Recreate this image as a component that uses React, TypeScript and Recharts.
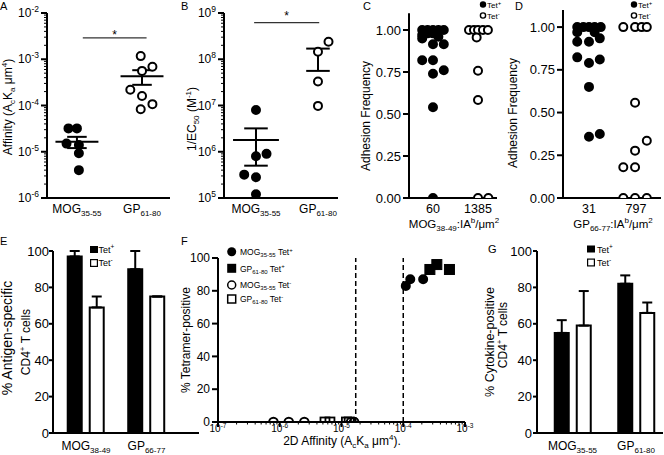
import React from 'react';
import {
  Bar,
  BarChart,
  ErrorBar,
  ReferenceLine,
  Scatter,
  ScatterChart,
  XAxis,
  YAxis,
} from 'recharts';

type Part = [string, ('sub' | 'sup' | '')?];

const FONT = '"Liberation Sans", Arial, Helvetica, sans-serif';
const W = 664;
const H = 455;
const YW = 40; // y axis band width
const XH = 20; // x axis band height

// A: 2D affinity per clone (log scale)
const aCategories: Part[][] = [[['MOG'], ['35-55', 'sub']], [['GP'], ['61-80', 'sub']]];
const aMog = [3.2e-5, 3.2e-5, 1.5e-5, 1.4e-5, 9.3e-6, 4.0e-6];
const aMogJitter = [-0.13, 0.0, -0.16, 0.03, 0.03, 0.03];
const aGp = [1.17e-3, 6.9e-4, 5.6e-4, 2.2e-4, 1.6e-4, 1.07e-4, 8.3e-5];
const aGpJitter = [-0.02, 0.16, 0, -0.18, 0, 0.16, -0.02];
const aMean = [1.65e-5, 4.3e-4];
const aSemLow = [1.2e-5, 2.8e-4];
const aSemHigh = [2.1e-5, 5.8e-4];
const aSigY = 2.9e-3;

// B: 1/EC50 (log scale)
const bMog = [8e6, 9e5, 8e5, 3.2e5, 2.8e5, 1.2e5];
const bMogJitter = [0, 0.17, 0, -0.19, 0, 0];
const bGp = [2.4e8, 1.45e8, 3.3e7, 9.8e6];
const bGpJitter = [0.17, 0, 0, 0];
const bMean = [1.8e6, 1.1e8];
const bSemLow = [5e5, 5.6e7];
const bSemHigh = [3.2e6, 1.7e8];
const bSigY = 6.2e8;

// C: adhesion frequency, MOG38-49
const cLabels: Part[][] = [[['60']], [['1385']]];
const cTetPos = [1, 1, 1, 1, 1, 0.97, 0.98, 0.98, 0.96, 0.95, 0.915, 0.915, 0.82, 0.82, 0.74, 0.76, 0.54, 0];
const cTetPosJitter = [-0.24, -0.12, 0, 0.12, 0.24, -0.24, -0.12, 0, 0.12, -0.24, 0, 0.24, -0.24, 0, 0, 0.24, 0, 0];
const cTetNeg = [1, 1, 1, 1, 1, 0.956, 0.757, 0.583, 0, 0];
const cTetNegJitter = [-0.2, -0.09, 0, 0.11, 0.22, -0.03, 0, 0, 0, 0.23];

// D: adhesion frequency, GP66-77
const dLabels: Part[][] = [[['31']], [['797']]];
const dTetPos = [1, 1, 1, 1, 1, 0.97, 0.97, 0.914, 0.914, 0.934, 0.823, 0.79, 0.81, 0.65, 0.358, 0.374];
const dTetPosJitter = [-0.25, -0.12, 0, 0.12, 0.25, -0.25, 0.12, -0.25, 0, 0.23, -0.25, 0, 0.23, 0, 0, 0.23];
const dTetNeg = [1, 1, 1, 1, 0.557, 0.335, 0.277, 0.18, 0.18, 0, 0, 0];
const dTetNegJitter = [-0.27, -0.02, 0.12, 0.23, -0.02, 0.23, -0.02, -0.27, -0.02, -0.27, -0.02, 0.23];

// E: % antigen-specific CD4+ T cells
const eCategories: Part[][] = [[['MOG'], ['38-49', 'sub']], [['GP'], ['66-77', 'sub']]];
const eTetPos = [97, 90];
const eTetPosErr = [3, 10];
const eTetNeg = [69, 75];
const eTetNegErr = [6, 0];

// F: % tetramer-positive vs 2D affinity
const fMogPosX = [1.1e-4, 1.3e-4, 2.1e-4];
const fMogPosY = [83, 87, 87];
const fGpPosX = [2.7e-4, 3.5e-4, 5.6e-4];
const fGpPosY = [93, 96, 93];
const fMogNegX = [7.9e-7, 1.4e-6, 2.5e-6, 1.43e-5, 1.6e-5];
const fMogNegY = [0, 0, 0, 0, 0];
const fGpNegX = [5.4e-6, 6.5e-6, 1.2e-5, 1.33e-5];
const fGpNegY = [0, 0, 0, 0];
const fThresholds = [1.7e-5, 1e-4];

// G: % cytokine-positive CD4+ T cells
const gCategories: Part[][] = [[['MOG'], ['35-55', 'sub']], [['GP'], ['61-80', 'sub']]];
const gTetPos = [55, 82];
const gTetPosErr = [7, 4.6];
const gTetNeg = [59, 66];
const gTetNegErr = [19, 5.7];

const axisLine = { stroke: '#000', strokeWidth: 2 };

function Rich({ x, y, parts, size = 12, small, anchor = 'middle', rotate = false }: any) {
  const s2 = small ?? Math.round(size * 0.68);
  let shift = 0;
  const spans = parts.map(([t, k]: Part, i: number) => {
    const target = k === 'sub' ? size * 0.28 : k === 'sup' ? -size * 0.4 : 0;
    const dy = target - shift;
    shift = target;
    return (
      <tspan key={i} dy={dy} fontSize={k ? s2 : size}>
        {t}
      </tspan>
    );
  });
  return (
    <text
      x={x}
      y={y}
      textAnchor={anchor}
      fontSize={size}
      fill="#000"
      fontFamily={FONT}
      transform={rotate ? `rotate(-90 ${x} ${y})` : undefined}
    >
      {spans}
    </text>
  );
}

const logTicks = (lo: number, hi: number) => {
  const t: number[] = [];
  for (let e = lo; e < hi; e++) for (let m = 1; m <= 9; m++) t.push(m * 10 ** e);
  t.push(10 ** hi);
  return t;
};

const decade = (v: number) => {
  const l = Math.log10(v);
  const e = Math.round(l);
  return { e, major: Math.abs(l - e) < 1e-6 };
};

function LogYTick({ x, y, payload }: any) {
  const { e, major } = decade(payload.value);
  return (
    <g>
      <line x1={x} x2={x - (major ? 6 : 3)} y1={y} y2={y} stroke="#000" strokeWidth={major ? 2 : 1} />
      {major && <Rich x={x - 8} y={y + 4} anchor="end" size={12} small={8.5} parts={[['10'], [String(e), 'sup']]} />}
    </g>
  );
}

function LogXTick({ x, y, payload }: any) {
  const { e, major } = decade(payload.value);
  return (
    <g>
      <line x1={x} x2={x} y1={y} y2={y + (major ? 5 : 2.5)} stroke="#000" strokeWidth={major ? 2 : 1} />
      {major && <Rich x={x} y={y + 9.5} size={10} small={6.5} parts={[['10'], [String(e), 'sup']]} />}
    </g>
  );
}

const categoryTick = (labels: Part[][], dy: number, size = 12, small = 8) => (props: any) => {
  const i = Math.round(props.payload.value);
  return <Rich x={props.x} y={props.y + dy} parts={labels[i]} size={size} small={small} />;
};

const dot = (filled: boolean, r = 4) => (p: any) => (
  <circle cx={p.cx} cy={p.cy} r={r} fill={filled ? '#000' : '#fff'} stroke="#000" strokeWidth={2} />
);
const ring = (r = 4) => (p: any) => <circle cx={p.cx} cy={p.cy} r={r} fill="none" stroke="#000" strokeWidth={2} />;
const square = (filled: boolean, s = 10) => (p: any) => (
  <rect
    x={p.cx - s / 2}
    y={p.cy - s / 2}
    width={s}
    height={s}
    fill={filled ? '#000' : 'none'}
    stroke="#000"
    strokeWidth={filled ? 1 : 1.8}
  />
);

const points = (vals: number[], jitter: number[], group: number) =>
  vals.map((v, i) => ({ x: group + jitter[i], y: v }));
const pairs = (xs: number[], ys: number[]) => xs.map((x, i) => ({ x, y: ys[i] }));

const layer: React.CSSProperties = { position: 'absolute', left: 0, top: 0 };

// plot rectangle (axis lines) -> chart margins, leaving room for the axis bands
const frame = (left: number, right: number, top: number, bottom: number) => ({
  top,
  left: left - YW,
  right: W - right,
  bottom: H - bottom - XH,
});

function meanSem(mean: number[], lo: number[], hi: number[], half: number, semHalf: number) {
  return mean.flatMap((m, i) => [
    <ReferenceLine key={`m${i}`} segment={[{ x: i - half, y: m }, { x: i + half, y: m }]} stroke="#000" strokeWidth={2} />,
    <ReferenceLine key={`h${i}`} segment={[{ x: i - semHalf, y: hi[i] }, { x: i + semHalf, y: hi[i] }]} stroke="#000" strokeWidth={2} />,
    <ReferenceLine key={`l${i}`} segment={[{ x: i - semHalf, y: lo[i] }, { x: i + semHalf, y: lo[i] }]} stroke="#000" strokeWidth={2} />,
    <ReferenceLine key={`v${i}`} segment={[{ x: i, y: lo[i] }, { x: i, y: hi[i] }]} stroke="#000" strokeWidth={2} />,
  ]);
}

function LogPanel({ left, right, xDomain, yLo, yHi, mog, mogJ, gp, gpJ, mean, lo, hi, half, semHalf, sigY, sigX, starOffset }: any) {
  return (
    <div style={layer}>
      <ScatterChart width={W} height={H} margin={frame(left, right, 13, 198)}>
        <XAxis
          type="number"
          dataKey="x"
          domain={xDomain}
          ticks={[0, 1]}
          interval={0}
          height={XH}
          axisLine={axisLine}
          tickLine={false}
          tickSize={0}
          tickMargin={0}
          tick={categoryTick(aCategories, 15)}
          allowDataOverflow
        />
        <YAxis
          type="number"
          dataKey="y"
          scale="log"
          domain={[10 ** yLo, 10 ** yHi]}
          ticks={logTicks(yLo, yHi)}
          interval={0}
          width={YW}
          axisLine={axisLine}
          tickLine={false}
          tickSize={0}
          tickMargin={0}
          tick={LogYTick}
          allowDataOverflow
        />
        <ReferenceLine
          segment={[{ x: sigX[0], y: sigY }, { x: sigX[1], y: sigY }]}
          stroke="#333"
          strokeWidth={1.2}
          label={{ value: '*', position: 'top', offset: starOffset, fill: '#000', fontSize: 12 }}
        />
        {meanSem(mean, lo, hi, half, semHalf)}
        <Scatter data={points(mog, mogJ, 0)} shape={dot(true)} isAnimationActive={false} />
        <Scatter data={points(gp, gpJ, 1)} shape={dot(false)} isAnimationActive={false} />
      </ScatterChart>
    </div>
  );
}

function AdhesionPanel({ left, right, top, xDomain, labels, pos, posJ, neg, negJ }: any) {
  return (
    <div style={layer}>
      <ScatterChart width={W} height={H} margin={frame(left, right, top, 198)}>
        <XAxis
          type="number"
          dataKey="x"
          domain={xDomain}
          ticks={[0, 1]}
          interval={0}
          height={XH}
          axisLine={axisLine}
          tickLine={false}
          tickSize={0}
          tickMargin={0}
          tick={categoryTick(labels, 15, 12.5)}
          allowDataOverflow
        />
        <YAxis
          type="number"
          dataKey="y"
          domain={[0, 1.1]}
          ticks={[0, 0.25, 0.5, 0.75, 1]}
          tickFormatter={(v: number) => v.toFixed(2)}
          interval={0}
          width={YW}
          axisLine={axisLine}
          tickLine={axisLine}
          tickSize={6}
          tickMargin={2}
          tick={{ fill: '#000', fontSize: 13 }}
          allowDataOverflow
        />
        <Scatter data={points(pos, posJ, 0)} shape={dot(true)} isAnimationActive={false} />
        <Scatter data={points(neg, negJ, 1)} shape={dot(false)} isAnimationActive={false} />
      </ScatterChart>
    </div>
  );
}

function BarPanel({ left, right, xDomain, labels, pos, posErr, neg, negErr, tickMargin }: any) {
  const data = pos.map((v: number, i: number) => ({
    x: i,
    pos: v,
    posErr: [0, posErr[i]],
    neg: neg[i],
    negErr: [0, negErr[i]],
  }));
  return (
    <div style={layer}>
      <BarChart width={W} height={H} data={data} barGap={8} margin={frame(left, right, 251, 433)}>
        <XAxis
          type="number"
          dataKey="x"
          domain={xDomain}
          ticks={[0, 1]}
          interval={0}
          height={XH}
          axisLine={axisLine}
          tickLine={false}
          tickSize={0}
          tickMargin={0}
          tick={categoryTick(labels, 17)}
          allowDataOverflow
        />
        <YAxis
          type="number"
          domain={[0, 100]}
          ticks={[0, 20, 40, 60, 80, 100]}
          interval={0}
          width={YW}
          axisLine={axisLine}
          tickLine={axisLine}
          tickSize={4}
          tickMargin={tickMargin}
          tick={{ fill: '#000', fontSize: 13 }}
          allowDataOverflow
        />
        <Bar dataKey="pos" fill="#000" stroke="#000" strokeWidth={2} barSize={14} isAnimationActive={false}>
          <ErrorBar dataKey="posErr" width={5} stroke="#000" strokeWidth={2} isAnimationActive={false} />
        </Bar>
        <Bar dataKey="neg" fill="#fff" stroke="#000" strokeWidth={2} barSize={14} isAnimationActive={false}>
          <ErrorBar dataKey="negErr" width={5} stroke="#000" strokeWidth={2} isAnimationActive={false} />
        </Bar>
      </BarChart>
    </div>
  );
}

function AffinityScatter() {
  return (
    <div style={layer}>
      <ScatterChart width={W} height={H} margin={frame(218, 465, 258, 422)}>
        <XAxis
          type="number"
          dataKey="x"
          scale="log"
          domain={[1e-7, 1e-3]}
          ticks={logTicks(-7, -3)}
          interval={0}
          height={XH}
          axisLine={axisLine}
          tickLine={false}
          tickSize={0}
          tickMargin={0}
          tick={LogXTick}
          allowDataOverflow
        />
        <YAxis
          type="number"
          dataKey="y"
          domain={[0, 100]}
          ticks={[0, 20, 40, 60, 80, 100]}
          interval={0}
          width={YW}
          axisLine={axisLine}
          tickLine={axisLine}
          tickSize={6}
          tickMargin={2}
          tick={{ fill: '#000', fontSize: 12 }}
          allowDataOverflow
        />
        {fThresholds.map((t) => (
          <ReferenceLine key={t} x={t} stroke="#000" strokeWidth={1.5} strokeDasharray="5 3" />
        ))}
        <Scatter data={pairs(fMogNegX, fMogNegY)} shape={ring(4.3)} isAnimationActive={false} />
        <Scatter data={pairs(fGpNegX, fGpNegY)} shape={square(false, 9)} isAnimationActive={false} />
        <Scatter data={pairs(fMogPosX, fMogPosY)} shape={dot(true, 4)} isAnimationActive={false} />
        <Scatter data={pairs(fGpPosX, fGpPosY)} shape={square(true, 10)} isAnimationActive={false} />
      </ScatterChart>
    </div>
  );
}

const tetPlus: Part[] = [['Tet'], ['+', 'sup']];
const tetMinus: Part[] = [['Tet'], ['-', 'sup']];

function Overlay() {
  return (
    <svg width={W} height={H} style={{ ...layer, pointerEvents: 'none' }}>
      {/* panel letters */}
      <Rich x={0} y={10} parts={[['A']]} size={11} anchor="start" />
      <Rich x={181} y={10} parts={[['B']]} size={11} anchor="start" />
      <Rich x={363} y={10} parts={[['C']]} size={11} anchor="start" />
      <Rich x={515} y={10} parts={[['D']]} size={11} anchor="start" />
      <Rich x={0} y={245} parts={[['E']]} size={11} anchor="start" />
      <Rich x={181} y={245} parts={[['F']]} size={11} anchor="start" />
      <Rich x={488} y={253} parts={[['G']]} size={11} anchor="start" />

      {/* axis titles */}
      <Rich x={12} y={107} rotate size={12} small={8}
        parts={[['Affinity (A'], ['c', 'sub'], ['K'], ['a', 'sub'], [' μm'], ['4', 'sup'], [')']]} />
      <Rich x={196} y={119} rotate size={12} small={8}
        parts={[['1/EC'], ['50', 'sub'], [' (M'], ['-1', 'sup'], [')']]} />
      <Rich x={370} y={116} rotate size={12} parts={[['Adhesion Frequency']]} />
      <Rich x={517} y={113} rotate size={12} parts={[['Adhesion Frequency']]} />
      <Rich x={454} y={228} size={11.5} small={8}
        parts={[['MOG'], ['38-49', 'sub'], [':IA'], ['b', 'sup'], ['/μm'], ['2', 'sup']]} />
      <Rich x={613} y={228} size={11.5} small={8}
        parts={[['GP'], ['66-77', 'sub'], [':IA'], ['b', 'sup'], ['/μm'], ['2', 'sup']]} />
      <Rich x={12} y={338} rotate size={14} parts={[['% Antigen-specific']]} />
      <Rich x={30} y={342} rotate size={12} small={8} parts={[['CD4'], ['+', 'sup'], [' T cells']]} />
      <Rich x={190} y={340} rotate size={12} parts={[['% Tetramer-positive']]} />
      <Rich x={342} y={445} size={12} small={8}
        parts={[['2D Affinity (A'], ['c', 'sub'], ['K'], ['a', 'sub'], [' μm'], ['4', 'sup'], [').']]} />
      <Rich x={494} y={342} rotate size={12.5} parts={[['% Cytokine-positive']]} />
      <Rich x={507} y={335} rotate size={12} small={8} parts={[['CD4'], ['+', 'sup'], [' T cells']]} />

      {/* C / D legends */}
      {[483, 634].map((lx) => (
        <g key={lx}>
          <circle cx={lx} cy={4.5} r={3.2} fill="#000" />
          <Rich x={lx + 4} y={8} size={8} small={6} anchor="start" parts={tetPlus} />
          <circle cx={lx} cy={15.5} r={2.6} fill="#fff" stroke="#000" strokeWidth={1.4} />
          <Rich x={lx + 4} y={19} size={8} small={6} anchor="start" parts={tetMinus} />
        </g>
      ))}

      {/* E / G legends */}
      {[[90, 246, 98.5], [587, 245.5, 597]].map(([lx, ly, tx]) => (
        <g key={lx}>
          <rect x={lx} y={ly} width={8} height={7} fill="#000" />
          <Rich x={tx} y={ly + 7} size={9} small={6.5} anchor="start" parts={tetPlus} />
          <rect x={lx + 0.6} y={ly + 13.6} width={6.8} height={6.8} fill="#fff" stroke="#000" strokeWidth={1.2} />
          <Rich x={tx} y={ly + 20} size={9} small={6.5} anchor="start" parts={tetMinus} />
        </g>
      ))}

      {/* F legend */}
      <circle cx={231.7} cy={251.7} r={4.5} fill="#000" />
      <rect x={227.2} y={263.8} width={9} height={9} fill="#000" />
      <circle cx={231.7} cy={285} r={4} fill="none" stroke="#000" strokeWidth={1.5} />
      <rect x={227.7} y={295} width={8} height={8} fill="none" stroke="#000" strokeWidth={1.5} />
      <Rich x={240} y={255} size={8.5} small={6} anchor="start" parts={[['MOG'], ['35-55', 'sub'], [' Tet'], ['+', 'sup']]} />
      <Rich x={240} y={271.5} size={8.5} small={6} anchor="start" parts={[['GP'], ['61-80', 'sub'], [' Tet'], ['+', 'sup']]} />
      <Rich x={240} y={288} size={8.5} small={6} anchor="start" parts={[['MOG'], ['35-55', 'sub'], [' Tet'], ['-', 'sup']]} />
      <Rich x={240} y={302} size={8.5} small={6} anchor="start" parts={[['GP'], ['61-80', 'sub'], [' Tet'], ['-', 'sup']]} />
    </svg>
  );
}

export default function App() {
  return (
    <div
      style={{
        position: 'absolute',
        left: 0,
        top: 0,
        width: W,
        height: H,
        background: '#fff',
        overflow: 'hidden',
        fontFamily: FONT,
      }}
    >
      <LogPanel
        left={47}
        right={170}
        xDomain={[-0.46, 1.43]}
        yLo={-6}
        yHi={-2}
        mog={aMog}
        mogJ={aMogJitter}
        gp={aGp}
        gpJ={aGpJitter}
        mean={aMean}
        lo={aSemLow}
        hi={aSemHigh}
        half={0.33}
        semHalf={0.15}
        sigY={aSigY}
        sigX={[0.09, 1.07]}
        starOffset={-1}
      />
      <LogPanel
        left={224}
        right={338}
        xDomain={[-0.516, 1.323]}
        yLo={5}
        yHi={9}
        mog={bMog}
        mogJ={bMogJitter}
        gp={bGp}
        gpJ={bGpJitter}
        mean={bMean}
        lo={bSemLow}
        hi={bSemHigh}
        half={0.37}
        semHalf={0.19}
        sigY={bSigY}
        sigX={[-0.03, 1.02]}
        starOffset={3}
      />
      <AdhesionPanel
        left={409}
        right={497}
        top={13.2}
        xDomain={[-0.533, 1.422]}
        labels={cLabels}
        pos={cTetPos}
        posJ={cTetPosJitter}
        neg={cTetNeg}
        negJ={cTetNegJitter}
      />
      <AdhesionPanel
        left={563}
        right={661}
        top={10}
        xDomain={[-0.553, 1.532]}
        labels={dLabels}
        pos={dTetPos}
        posJ={dTetPosJitter}
        neg={dTetNeg}
        negJ={dTetNegJitter}
      />
      <BarPanel
        left={53}
        right={199}
        xDomain={[-0.545, 1.868]}
        labels={eCategories}
        pos={eTetPos}
        posErr={eTetPosErr}
        neg={eTetNeg}
        negErr={eTetNegErr}
        tickMargin={0}
      />
      <AffinityScatter />
      <BarPanel
        left={537}
        right={663}
        xDomain={[-0.559, 1.425]}
        labels={gCategories}
        pos={gTetPos}
        posErr={gTetPosErr}
        neg={gTetNeg}
        negErr={gTetNegErr}
        tickMargin={1}
      />
      <Overlay />
    </div>
  );
}
